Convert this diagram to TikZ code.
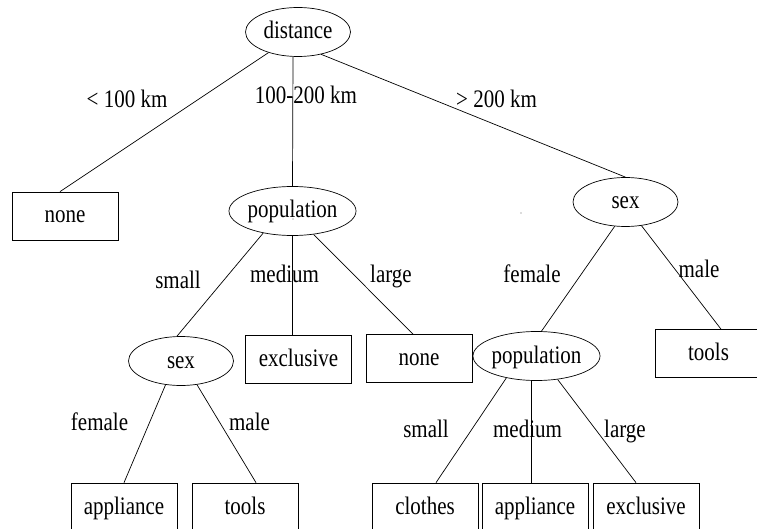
\documentclass[tikz,border=0pt]{standalone}
\usepackage{fontspec}
\usepackage{graphicx}
\setmainfont{Liberation Serif}
\usetikzlibrary{shapes.geometric,calc}
\newcommand\tallT[1]{\scalebox{1}[1.2]{#1}}
\begin{document}
\begin{tikzpicture}[x=1pt,y=-1pt,
  font=\fontsize{21}{24}\selectfont,
  line width=0.7pt,
  oval/.style={draw,ellipse,minimum width=105pt,minimum height=49pt,inner sep=0pt,text height=16pt,text depth=2pt},
  leaf/.style={draw,rectangle,minimum width=106pt,minimum height=48pt,inner sep=0pt,text height=16pt,text depth=2pt},
  lbl/.style={anchor=base,inner sep=0pt}]
\useasboundingbox (0,0) rectangle (757,529);
\clip (0,0) rectangle (757,529);
% nodes
\node[oval] (dist) at (298,32) {\tallT{distance}};
\node[leaf] (noneL) at (65,216) {\tallT{none}};
\node[oval] (popM) at (292.5,211) {\tallT{population}};
\node[oval] (sexR) at (625.5,202) {\tallT{sex}};
\node[oval] (sexL) at (181,361) {\tallT{sex}};
\node[leaf] (exclM) at (298.5,359) {\tallT{exclusive}};
\node[leaf] (noneM) at (419,358.5) {\tallT{none}};
\node[oval] (popR) at (536.5,356) {\tallT{population}};
\node[leaf] (toolsR) at (708.5,353.5) {\tallT{tools}};
\node[leaf] (applL) at (124,507) {\tallT{appliance}};
\node[leaf] (toolsL) at (245,507) {\tallT{tools}};
\node[leaf] (clothes) at (425,507) {\tallT{clothes}};
\node[leaf] (applR) at (535,507) {\tallT{appliance}};
\node[leaf] (exclR) at (646,507) {\tallT{exclusive}};
% connectors
\draw (dist.215) -- ([xshift=-5pt]noneL.north);
\draw ([xshift=-5pt]dist.south) -- (popM.north);
\draw (dist.-44) -- (sexR.north);
\draw (popM.217) -- ([xshift=-4pt]sexL.north);
\draw (popM.south) -- (popM.south |- exclM.north);
\draw (popM.-48) -- ([xshift=-6pt]noneM.north);
\draw (sexL.237) -- (applL.north);
\draw (sexL.-56) -- ([xshift=11pt]toolsL.north);
\draw (sexR.246) -- ([xshift=5pt]popR.north);
\draw (sexR.-56) -- ([xshift=12.5pt]toolsR.north);
\draw (popR.216) -- ([xshift=11pt]clothes.north);
\coordinate (aR) at ([xshift=-4pt]applR.north);
\draw (popR.south -| aR) -- (aR);
\draw (popR.-48) -- ([xshift=-10pt]exclR.north);
% labels
\node[lbl] (t1) at (127,108) {\tallT{< 100 km}};
\node[lbl] (t2) at (306,104) {\tallT{100-200 km}};
\node[lbl] (t3) at (496.5,108) {\tallT{> 200 km}};
\node[lbl] (t4) at (178,288) {\tallT{small}};
\node[lbl] (t5) at (284.5,282) {\tallT{medium}};
\node[lbl] (t6) at (391,282) {\tallT{large}};
\node[lbl] (t7) at (532,282) {\tallT{female}};
\node[lbl] (t8) at (699,277) {\tallT{male}};
\node[lbl] (t9) at (99.5,430) {\tallT{female}};
\node[lbl] (t10) at (249.5,430) {\tallT{male}};
\node[lbl] (t11) at (426,437) {\tallT{small}};
\node[lbl] (t12) at (527.5,437) {\tallT{medium}};
\node[lbl] (t13) at (625,437) {\tallT{large}};
% stray dots
\fill[black!60] (293,219) circle (0.6);
\fill[black!60] (521,213) circle (0.6);
\end{tikzpicture}
\end{document}
